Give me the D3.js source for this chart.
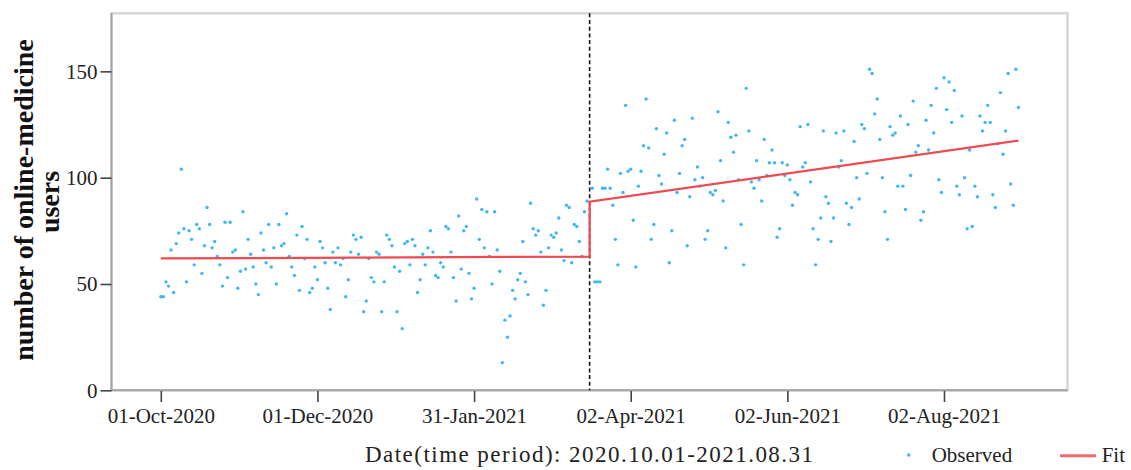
<!DOCTYPE html>
<html>
<head>
<meta charset="utf-8">
<script src="https://cdn.jsdelivr.net/npm/d3@7"></script>
<style>
  html, body { margin: 0; padding: 0; background: #fff; }
</style>
</head>
<body>
<div id="chart"></div>
<script>
// daily observed values, one per day of each month (null = hidden behind the break line)
const oct2020 = [44, 44, 51, 49, 66, 46, 69, 74, 104, 76, 51, 75, 71, 59, 78, 76, 55, 68, 86, 78, 67, 70, 63, 59, 49, 79, 53, 79, 65, 66, 48];
const nov2020 = [56, 84, 57, 71, 64, 58, 50, 45, 74, 66, 60, 78, 58, 67, 50, 78, 68, 69, 83, 63, 58, 54, 73, 47, 77, 62, 71, 46, 48, 58];
const dec2020 = [52, 70, 67, 60, 48, 38, 65, 60, 67, 59, 62, 44, 52, 65, 73, 71, 64, 72, 37, 42, 62, 53, 51, 65, 64, 37, 51, 73, 71, 68, 58];
const jan2021 = [37, 56, 29, 69, 70, 59, 71, 68, 46, 52, 64, 59, 67, 75, 65, 54, 53, 60, 58, 77, 76, 65, 53, 42, 82, 57, 75, 77, 55, 43, 48];
const feb2021 = [90, 71, 85, 67, 84, 63, 50, 84, 66, 56, 13, 33, 25, 35, 47, 43, 52, 55, 70, 51, 45, 88, 76, 73, 75, 65, 40, 47];
const mar2021 = [67, 73, 72, 74, 81, 66, 61, 87, 86, 60, 78, 77, 70, 63, 84, 89, null, 95, 51, 51, 51, 95, 95, 104, 95, 87, 71, 59, 102, 93, 134];
const apr2021 = [103, 104, 80, 58, 96, 103, 115, 137, 114, 71, 78, 123, 101, 97, 111, 121, 60, 75, 127, 93, 102, 115, 118, 68, 91, 128, 99, 105, 96, 100];
const may2021 = [71, 75, 93, 92, 94, 131, 108, 89, 67, 126, 119, 112, 120, 99, 78, 59, 142, 122, 98, 95, 108, 99, 89, 118, 101, 107, 113, 107, 72, 76, 107];
const jun2021 = [101, 106, 99, 87, 93, 92, 124, 105, 107, 125, 98, 76, 59, 71, 81, 122, 91, 88, 70, 81, 121, 105, 108, 122, 88, 78, 86, 117, 100, 90];
const jul2021 = [125, 123, 102, 151, 149, 130, 137, 118, 100, 84, 71, 124, 120, 121, 96, 129, 96, 85, 125, 101, 136, 112, 115, 80, 84, 127, 113, 134, 121, 142, 99];
const aug2021 = [93, 147, 132, 145, 126, 141, 96, 92, 129, 100, 76, 113, 77, 96, 91, 129, 122, 126, 134, 126, 92, 86, 116, 140, 111, 122, 149, 97, 87, 151, 133];

const monthStarts = ["2020-10-01", "2020-11-01", "2020-12-01", "2021-01-01", "2021-02-01", "2021-03-01",
                     "2021-04-01", "2021-05-01", "2021-06-01", "2021-07-01", "2021-08-01"];
const monthValues = [oct2020, nov2020, dec2020, jan2021, feb2021, mar2021, apr2021, may2021, jun2021, jul2021, aug2021];

// piecewise (interrupted) regression fit
const fitDates = ["2020-10-01", "2021-03-17", "2021-03-17", "2021-08-31"];
const fitValues = [62.0, 62.9, 88.7, 117.4];
const breakDate = "2021-03-17";

const xTickDates = ["2020-10-01", "2020-12-01", "2021-01-31", "2021-04-02", "2021-06-02", "2021-08-02"];
const yTickValues = [0, 50, 100, 150];

const yTitleLines = ["number of online-medicine", "users"];
const xTitle = "Date(time period): 2020.10.01-2021.08.31";
const legendLabels = ["Observed", "Fit"];

function drawChart(divId) {
    var width = 1131, height = 470;
    var fontFamily = "'Liberation Serif', 'Times New Roman', serif";
    var dotColor = "#3fb7f4", fitColor = "#ee4a4f";
    var parse = d3.utcParse("%Y-%m-%d");
    var dayMs = 864e5;

    var observed = [];
    monthStarts.forEach(function (m, i) {
        var start = parse(m);
        monthValues[i].forEach(function (v, j) {
            if (v !== null) observed.push({ date: new Date(start.getTime() + j * dayMs), value: v });
        });
    });

    var svg = d3.select("#" + divId)
        .append("svg")
        .attr("width", width)
        .attr("height", height)
        .style("background", "#fff")
        .style("display", "block");

    var first = parse("2020-10-01").getTime();
    var x = d3.scaleUtc()
        .domain([new Date(first - 19.2 * dayMs), new Date(first + 353.1 * dayMs)])
        .range([111.5, 1067.5]);

    var y = d3.scaleLinear()
        .domain([0, 177.3])
        .range([390.3, 13.3]);

    // plot frame
    svg.append("rect")
        .attr("x", 111.5).attr("y", 13.3)
        .attr("width", 956).attr("height", 377)
        .attr("fill", "none")
        .attr("stroke", "#d6d6d6")
        .attr("stroke-width", 2.5);

    svg.append("path")
        .attr("d", "M111.5,13.3V390.3H1067.5")
        .attr("fill", "none")
        .attr("stroke", "#a3a3a3")
        .attr("stroke-width", 2);

    var yAxis = svg.append("g")
        .attr("transform", "translate(111.5,0)")
        .call(d3.axisLeft(y).tickValues(yTickValues).tickSize(11).tickPadding(3).tickFormat(d3.format("d")));
    yAxis.select(".domain").remove();
    yAxis.selectAll("line").attr("stroke", "#444").attr("stroke-width", 1.6);
    yAxis.selectAll("text")
        .style("font-family", fontFamily)
        .style("font-size", "21px")
        .style("fill", "#222");

    var xAxis = svg.append("g")
        .attr("transform", "translate(0,391)")
        .call(d3.axisBottom(x).tickValues(xTickDates.map(parse)).tickSize(11).tickPadding(6)
            .tickFormat(d3.utcFormat("%d-%b-%Y")));
    xAxis.select(".domain").remove();
    xAxis.selectAll("line").attr("stroke", "#444").attr("stroke-width", 1.6);
    xAxis.selectAll("text")
        .style("font-family", fontFamily)
        .style("font-size", "21px")
        .style("fill", "#222");

    // observed points
    svg.append("g")
        .selectAll("circle")
        .data(observed)
        .enter().append("circle")
        .attr("cx", d => x(d.date))
        .attr("cy", d => y(d.value))
        .attr("r", 1.7)
        .attr("fill", dotColor);

    // intervention line
    svg.append("line")
        .attr("x1", x(parse(breakDate))).attr("x2", x(parse(breakDate)))
        .attr("y1", 13.3).attr("y2", 390.3)
        .attr("stroke", "#111")
        .attr("stroke-width", 1.6)
        .attr("stroke-dasharray", "4,2.7");

    // fit line
    var fitData = fitDates.map((d, i) => ({ date: parse(d), value: fitValues[i] }));
    svg.append("path")
        .datum(fitData)
        .attr("fill", "none")
        .attr("stroke", fitColor)
        .attr("stroke-width", 2.2)
        .attr("d", d3.line().x(d => x(d.date)).y(d => y(d.value)));

    // y title
    var yTitle = svg.append("text")
        .attr("transform", "rotate(-90)")
        .style("text-anchor", "middle")
        .style("font-family", fontFamily)
        .style("font-size", "28px")
        .style("font-weight", "bold")
        .style("fill", "#111");
    yTitle.append("tspan").attr("x", -200).attr("y", 33).text(yTitleLines[0]);
    yTitle.append("tspan").attr("x", -202).attr("y", 59).text(yTitleLines[1]);

    // x title
    svg.append("text")
        .attr("x", 365).attr("y", 462)
        .attr("textLength", 448)
        .attr("lengthAdjust", "spacing")
        .style("font-family", fontFamily)
        .style("font-size", "23px")
        .style("fill", "#222")
        .text(xTitle);

    // legend
    svg.append("circle")
        .attr("cx", 908.7).attr("cy", 455)
        .attr("r", 1.7)
        .attr("fill", dotColor);
    svg.append("text")
        .attr("x", 931.7).attr("y", 462)
        .style("font-family", fontFamily)
        .style("font-size", "21px")
        .style("fill", "#222")
        .text(legendLabels[0]);
    svg.append("line")
        .attr("x1", 1060).attr("x2", 1096)
        .attr("y1", 455.7).attr("y2", 455.7)
        .attr("stroke", "#f06a6e")
        .attr("stroke-width", 3);
    svg.append("text")
        .attr("x", 1101.7).attr("y", 462)
        .style("font-family", fontFamily)
        .style("font-size", "21px")
        .style("fill", "#222")
        .text(legendLabels[1]);
}

drawChart("chart");
</script>
</body>
</html>
